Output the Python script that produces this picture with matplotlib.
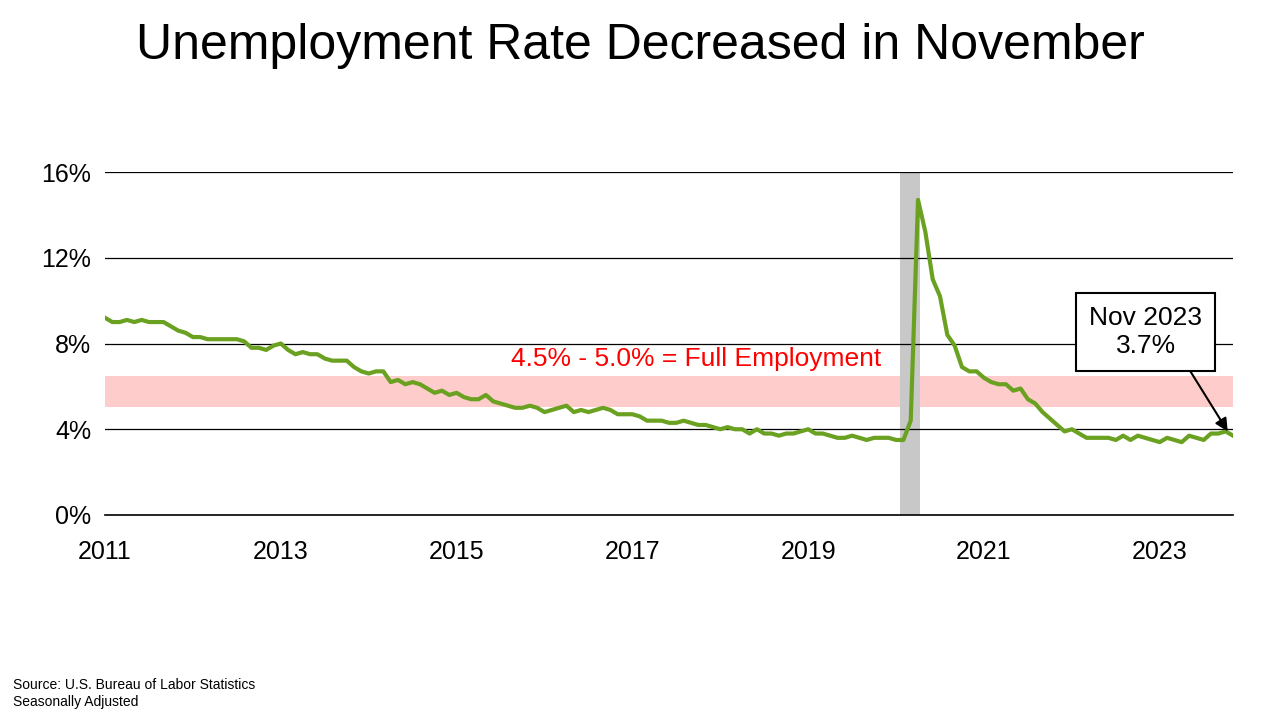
import matplotlib
matplotlib.use("Agg")
import matplotlib.pyplot as plt
import numpy as np

rates = [
9.2,9.0,9.0,9.1,9.0,9.1,9.0,9.0,9.0,8.8,8.6,8.5,
8.3,8.3,8.2,8.2,8.2,8.2,8.2,8.1,7.8,7.8,7.7,7.9,
8.0,7.7,7.5,7.6,7.5,7.5,7.3,7.2,7.2,7.2,6.9,6.7,
6.6,6.7,6.7,6.2,6.3,6.1,6.2,6.1,5.9,5.7,5.8,5.6,
5.7,5.5,5.4,5.4,5.6,5.3,5.2,5.1,5.0,5.0,5.1,5.0,
4.8,4.9,5.0,5.1,4.8,4.9,4.8,4.9,5.0,4.9,4.7,4.7,
4.7,4.6,4.4,4.4,4.4,4.3,4.3,4.4,4.3,4.2,4.2,4.1,
4.0,4.1,4.0,4.0,3.8,4.0,3.8,3.8,3.7,3.8,3.8,3.9,
4.0,3.8,3.8,3.7,3.6,3.6,3.7,3.6,3.5,3.6,3.6,3.6,
3.5,3.5,4.4,14.7,13.2,11.0,10.2,8.4,7.9,6.9,6.7,6.7,
6.4,6.2,6.1,6.1,5.8,5.9,5.4,5.2,4.8,4.5,4.2,3.9,
4.0,3.8,3.6,3.6,3.6,3.6,3.5,3.7,3.5,3.7,3.6,3.5,
3.4,3.6,3.5,3.4,3.7,3.6,3.5,3.8,3.8,3.9,3.7]
start_year = 2011
band = (5.05, 6.5)
recession = (2020.045, 2020.27)
yticks = [0, 4, 8, 12, 16]
xticks = [2011, 2013, 2015, 2017, 2019, 2021, 2023]

plt.rcParams['font.family'] = ['Liberation Sans', 'DejaVu Sans']
x = start_year + np.arange(len(rates)) / 12.0

fig = plt.figure(figsize=(12.8, 7.2), dpi=100)
ax = fig.add_axes([105/1280, 1-515/720, (1233-105)/1280, (515-172)/720])
ax.axhspan(*band, color='#ffcccc', zorder=1, lw=0)
ax.axvspan(*recession, color='#c8c8c8', zorder=1, lw=0)
for t in yticks[1:]:
    ax.axhline(t, color='black', lw=0.9, zorder=2)
ax.plot(x, rates, color='#6aa121', lw=3, zorder=3)
ax.set_xlim(x[0], x[-1])
ax.set_ylim(0, 16)
ax.set_yticks(yticks)
ax.set_yticklabels([f"{t}%" for t in yticks], fontsize=18)
ax.set_xticks(xticks)
ax.set_xticklabels([str(t) for t in xticks], fontsize=18)
ax.tick_params(axis='y', length=0, pad=10)
ax.tick_params(axis='x', length=0, pad=18)
for s in ['top', 'right', 'left']:
    ax.spines[s].set_visible(False)
ax.spines['bottom'].set_linewidth(1.2)

ax.text(2017.72, 7.3, "4.5% - 5.0% = Full Employment", color='red', fontsize=19,
        ha='center', va='center', zorder=4)
ax.annotate("Nov 2023\n3.7%", xy=(x[-1] - 0.06, 3.9), xytext=(2022.84, 8.55),
            fontsize=19, ha='center', va='center', zorder=5,
            bbox=dict(boxstyle='square,pad=0.5', fc='white', ec='black', lw=1.5),
            arrowprops=dict(arrowstyle='-|>', color='black', lw=1.5,
                            shrinkA=0, shrinkB=0, relpos=(0.82, 0)))

fig.text(0.5, 1-46/720, "Unemployment Rate Decreased in November", fontsize=36,
         ha='center', va='center')
fig.text(13/1280, 1-685/720, "Source: U.S. Bureau of Labor Statistics", fontsize=10, va='center')
fig.text(13/1280, 1-702/720, "Seasonally Adjusted", fontsize=10, va='center')
fig.savefig("out.png", dpi=100)
